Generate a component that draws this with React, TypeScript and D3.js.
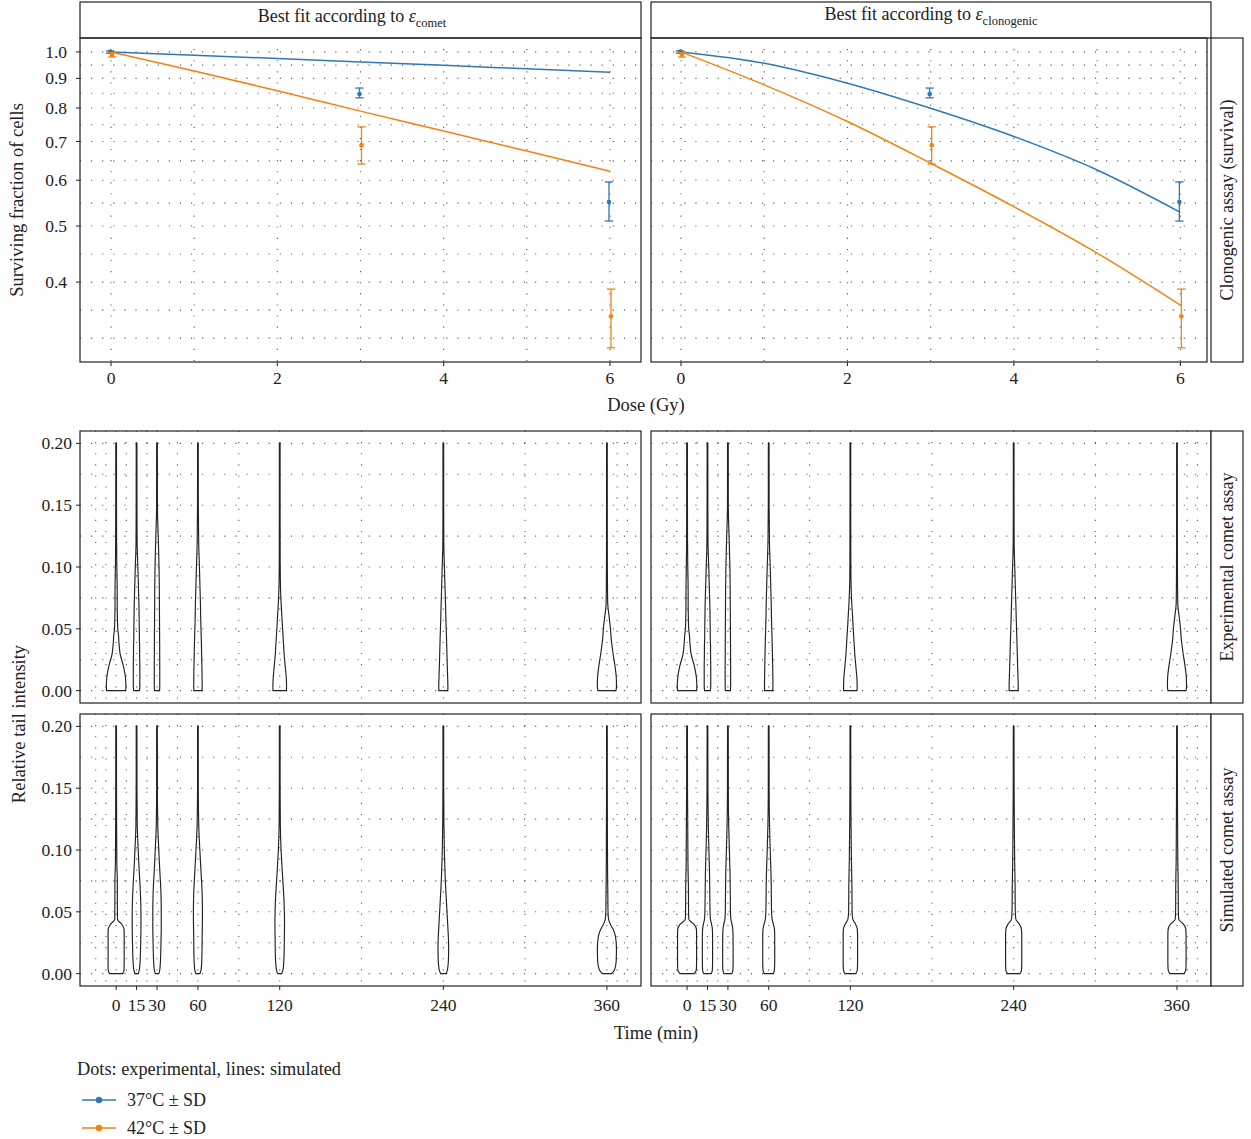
import React from "react";
import * as d3 from "d3";

// ---------- DATA ----------
const EXP_DOSES = [0, 3, 6];
const EXP_37_MEAN = [1.0, 0.846, 0.55];
const EXP_37_LO = [0.995, 0.833, 0.51];
const EXP_37_HI = [1.004, 0.866, 0.596];
const EXP_42_MEAN = [0.988, 0.69, 0.349];
const EXP_42_LO = [0.98, 0.64, 0.308];
const EXP_42_HI = [0.997, 0.742, 0.389];

const FIT_DOSES = [0, 1, 2, 3, 4, 5, 6];
const FIT_COMET_37 = [1.0, 0.987, 0.974, 0.961, 0.948, 0.935, 0.922];
const FIT_COMET_42 = [1.0, 0.927, 0.857, 0.79, 0.73, 0.674, 0.622];
const FIT_CLONO_37 = [1.0, 0.956, 0.883, 0.799, 0.714, 0.625, 0.528];
const FIT_CLONO_42 = [1.0, 0.877, 0.758, 0.642, 0.54, 0.449, 0.365];

const SURV_TICKS = [0.4, 0.5, 0.6, 0.7, 0.8, 0.9, 1.0];
const DOSE_TICKS = [0, 2, 4, 6];
const TIMES = [0, 15, 30, 60, 120, 240, 360];
const TAIL_TICKS = [0, 0.05, 0.1, 0.15, 0.2];

// violin profiles: half-width (min) at each tail-intensity level
const PROFILE_Y = [0, 0.003, 0.01, 0.02, 0.03, 0.036, 0.04, 0.044, 0.05, 0.06, 0.07, 0.08, 0.09, 0.1, 0.12, 0.15, 0.2];
const EXP_VIOLINS = [
  [7.0, 7.2, 6.9, 5.3, 2.9, 2.3, 2.0, 1.8, 1.2, 0.93, 0.8, 0.8, 0.7, 0.53, 0.35, 0.28, 0.26],
  [2.1, 2.4, 2.4, 2.4, 2.25, 2.25, 2.1, 2.05, 2.0, 1.86, 1.72, 1.46, 1.2, 0.93, 0.4, 0.28, 0.26],
  [1.85, 2.0, 2.0, 2.0, 1.95, 1.95, 1.9, 1.9, 1.86, 1.8, 1.75, 1.7, 1.6, 1.46, 1.0, 0.3, 0.26],
  [3.0, 3.1, 3.05, 2.9, 2.7, 2.6, 2.5, 2.4, 2.25, 2.0, 1.85, 1.6, 1.35, 1.1, 0.55, 0.3, 0.26],
  [4.9, 5.0, 4.8, 4.0, 3.2, 2.9, 2.65, 2.45, 2.1, 1.6, 1.06, 0.66, 0.45, 0.35, 0.3, 0.27, 0.26],
  [3.3, 3.35, 3.2, 2.9, 2.65, 2.5, 2.4, 2.3, 2.1, 1.85, 1.6, 1.33, 1.06, 0.8, 0.35, 0.27, 0.26],
  [6.6, 7.0, 6.9, 5.9, 4.5, 3.8, 3.3, 3.0, 2.6, 1.6, 0.6, 0.45, 0.38, 0.33, 0.3, 0.27, 0.26],
];
const SIM_COMET_VIOLINS = [
  [4.8, 5.8, 5.9, 5.9, 5.9, 5.85, 4.0, 1.0, 0.95, 0.9, 0.9, 0.8, 0.5, 0.45, 0.35, 0.28, 0.26],
  [1.3, 2.0, 2.6, 2.9, 3.1, 3.2, 3.2, 3.2, 3.2, 3.0, 2.6, 2.1, 1.6, 1.2, 0.5, 0.28, 0.26],
  [1.3, 2.0, 2.5, 2.8, 3.0, 3.1, 3.1, 3.1, 3.1, 3.0, 2.7, 2.2, 1.7, 1.3, 0.55, 0.28, 0.26],
  [1.5, 2.3, 2.8, 3.0, 3.1, 3.2, 3.25, 3.3, 3.3, 3.2, 2.9, 2.4, 1.9, 1.4, 0.6, 0.28, 0.26],
  [1.5, 2.4, 3.0, 3.3, 3.4, 3.5, 3.5, 3.5, 3.4, 3.1, 2.6, 2.0, 1.5, 1.0, 0.45, 0.28, 0.26],
  [2.0, 3.0, 3.7, 3.9, 3.7, 3.4, 3.2, 3.0, 2.7, 2.2, 1.7, 1.3, 1.0, 0.75, 0.45, 0.28, 0.26],
  [3.2, 5.5, 6.8, 7.0, 6.3, 4.5, 2.5, 1.2, 0.8, 0.7, 0.6, 0.5, 0.45, 0.4, 0.35, 0.28, 0.26],
];
const SIM_CLONO_VIOLINS = [
  [5.2, 6.8, 7.0, 7.0, 7.0, 6.9, 5.0, 1.3, 1.1, 1.05, 1.0, 0.8, 0.65, 0.6, 0.5, 0.32, 0.26],
  [2.8, 3.6, 3.75, 3.75, 3.75, 3.6, 3.0, 2.2, 1.9, 1.75, 1.65, 1.55, 1.3, 1.05, 0.6, 0.32, 0.26],
  [2.9, 3.7, 3.85, 3.85, 3.8, 3.6, 3.0, 2.2, 1.9, 1.8, 1.7, 1.6, 1.35, 1.1, 0.6, 0.32, 0.26],
  [3.4, 4.2, 4.4, 4.4, 4.4, 4.2, 3.4, 2.5, 2.1, 1.95, 1.85, 1.7, 1.4, 1.1, 0.6, 0.32, 0.26],
  [4.0, 5.1, 5.3, 5.3, 5.3, 5.1, 3.8, 1.8, 1.3, 1.2, 1.15, 1.0, 0.8, 0.7, 0.5, 0.32, 0.26],
  [4.6, 5.8, 5.95, 5.95, 5.95, 5.7, 4.2, 1.6, 1.2, 1.1, 1.05, 0.9, 0.75, 0.65, 0.5, 0.32, 0.26],
  [5.1, 6.5, 6.7, 6.7, 6.7, 6.5, 4.8, 1.3, 1.0, 0.95, 0.9, 0.8, 0.6, 0.55, 0.45, 0.32, 0.26],
];

const SERIES_LABELS = ["37°C ± SD", "42°C ± SD"];
const COLORS = ["#2f78b7", "#f5820f"];

// ---------- helpers ----------
const FONT = "'Liberation Serif', 'Times New Roman', serif";
const TICK_FS = 17.5;
const TITLE_FS = 18.5;
const STRIP_FS = 18;
const GRID = { stroke: "#555", strokeWidth: 1.1, strokeDasharray: "1.1 10" };

function minorBreaks(b: number[], lim: [number, number]) {
  const bd = b[1] - b[0];
  let bb = [...b];
  if (lim[0] < bb[0]) bb = [bb[0] - bd, ...bb];
  if (lim[1] > bb[bb.length - 1]) bb = [...bb, bb[bb.length - 1] + bd];
  const out: number[] = [];
  for (let i = 0; i < bb.length - 1; i++) out.push(bb[i], (bb[i] + bb[i + 1]) / 2);
  out.push(bb[bb.length - 1]);
  return out.filter((v) => v >= Math.min(...lim) && v <= Math.max(...lim));
}

const SURV_DOMAIN: [number, number] = [0.291, 1.057];
const DODGE = 0.012;
const CAP = 0.05;

function SurvPanel({ x0, x1, dDomain, fit37, fit42, ticks }: any) {
  const top = 38, bot = 362;
  const xs = d3.scaleLinear().domain(dDomain).range([x0, x1]);
  const ys = d3.scaleLog().domain(SURV_DOMAIN).range([bot, top]);
  const lnB = SURV_TICKS.map((v) => Math.log(v));
  const yGrid = minorBreaks(lnB, [Math.log(SURV_DOMAIN[0]), Math.log(SURV_DOMAIN[1])]).map((v) => Math.exp(v));
  const xGrid = minorBreaks(DOSE_TICKS, dDomain);
  const line = d3
    .line<number>()
    .x((_, i) => xs(FIT_DOSES[i]))
    .y((v) => ys(v))
    .curve(d3.curveMonotoneX);
  const exp = [
    { m: EXP_37_MEAN, lo: EXP_37_LO, hi: EXP_37_HI, c: COLORS[0], dx: -DODGE },
    { m: EXP_42_MEAN, lo: EXP_42_LO, hi: EXP_42_HI, c: COLORS[1], dx: DODGE },
  ];
  return (
    <g>
      <g>
        {yGrid.map((v, i) => (
          <line key={"h" + i} x1={x0} x2={x1} y1={ys(v)} y2={ys(v)} {...GRID} />
        ))}
        {xGrid.map((v, i) => (
          <line key={"v" + i} x1={xs(v)} x2={xs(v)} y1={top} y2={bot} {...GRID} />
        ))}
      </g>
      <path d={line(fit37) || ""} fill="none" stroke={COLORS[0]} strokeWidth={1.5} />
      <path d={line(fit42) || ""} fill="none" stroke={COLORS[1]} strokeWidth={1.5} />
      {exp.map((s, k) => (
        <g key={k} stroke={s.c} fill={s.c}>
          {EXP_DOSES.map((d, i) => {
            const cx = xs(d + s.dx);
            return (
              <g key={i}>
                <line x1={cx} x2={cx} y1={ys(s.lo[i])} y2={ys(s.hi[i])} strokeWidth={1.3} />
                <line x1={xs(d + s.dx - CAP)} x2={xs(d + s.dx + CAP)} y1={ys(s.lo[i])} y2={ys(s.lo[i])} strokeWidth={1.3} />
                <line x1={xs(d + s.dx - CAP)} x2={xs(d + s.dx + CAP)} y1={ys(s.hi[i])} y2={ys(s.hi[i])} strokeWidth={1.3} />
                <circle cx={cx} cy={ys(s.m[i])} r={2.3} stroke="none" />
              </g>
            );
          })}
        </g>
      ))}
      <rect x={x0} y={top} width={x1 - x0} height={bot - top} fill="none" stroke="#222" strokeWidth={1.2} />
      {DOSE_TICKS.map((t) => (
        <g key={t}>
          <line x1={xs(t)} x2={xs(t)} y1={bot} y2={bot + 4} stroke="#222" />
          <text x={xs(t)} y={bot + 22} textAnchor="middle" fontSize={TICK_FS} fontFamily={FONT} fill="#222">
            {t}
          </text>
        </g>
      ))}
      {ticks &&
        SURV_TICKS.map((t) => (
          <g key={t}>
            <line x1={x0 - 4} x2={x0} y1={ys(t)} y2={ys(t)} stroke="#222" />
            <text x={x0 - 13} y={ys(t) + 6} textAnchor="end" fontSize={TICK_FS} fontFamily={FONT} fill="#222">
              {d3.format(".1f")(t)}
            </text>
          </g>
        ))}
    </g>
  );
}

const TIME_DOMAIN: [number, number] = [-26.5, 385];
const TAIL_DOMAIN: [number, number] = [-0.01, 0.21];

function ViolinPanel({ x0, x1, top, bot, violins, yTicks, xTicks }: any) {
  const xs = d3.scaleLinear().domain(TIME_DOMAIN).range([x0, x1]);
  const ys = d3.scaleLinear().domain(TAIL_DOMAIN).range([bot, top]);
  const yGrid = minorBreaks(TAIL_TICKS, TAIL_DOMAIN);
  const xGrid = minorBreaks(TIMES, TIME_DOMAIN);
  return (
    <g>
      {yGrid.map((v, i) => (
        <line key={"h" + i} x1={x0} x2={x1} y1={ys(v)} y2={ys(v)} {...GRID} />
      ))}
      {xGrid.map((v, i) => (
        <line key={"v" + i} x1={xs(v)} x2={xs(v)} y1={top} y2={bot} {...GRID} />
      ))}
      {TIMES.map((t, k) => {
        const hw: number[] = violins[k];
        const area = d3
          .area<number>()
          .y((_, i) => ys(PROFILE_Y[i]))
          .x0((w) => xs(t - w))
          .x1((w) => xs(t + w))
          .curve(d3.curveMonotoneY);
        return <path key={t} d={area(hw) || ""} fill="none" stroke="#222" strokeWidth={1.15} />;
      })}
      <rect x={x0} y={top} width={x1 - x0} height={bot - top} fill="none" stroke="#222" strokeWidth={1.2} />
      {yTicks &&
        TAIL_TICKS.map((t) => (
          <g key={t}>
            <line x1={x0 - 4} x2={x0} y1={ys(t)} y2={ys(t)} stroke="#222" />
            <text x={x0 - 8} y={ys(t) + 6} textAnchor="end" fontSize={TICK_FS} fontFamily={FONT} fill="#222">
              {d3.format(".2f")(t)}
            </text>
          </g>
        ))}
      {xTicks &&
        TIMES.map((t) => (
          <g key={t}>
            <line x1={xs(t)} x2={xs(t)} y1={bot} y2={bot + 4} stroke="#222" />
            <text x={xs(t)} y={bot + 25} textAnchor="middle" fontSize={TICK_FS} fontFamily={FONT} fill="#222">
              {t}
            </text>
          </g>
        ))}
    </g>
  );
}

function Strip({ x, y, w, h, children }: any) {
  return (
    <g>
      <rect x={x} y={y} width={w} height={h} fill="white" stroke="#222" strokeWidth={1.2} />
      {children}
    </g>
  );
}

function RightStrip({ y0, y1, label }: any) {
  const x = 1211, w = 32;
  return (
    <g>
      <rect x={x} y={y0} width={w} height={y1 - y0} fill="white" stroke="#222" strokeWidth={1.2} />
      <text
        transform={`translate(${x + w / 2 + 6},${(y0 + y1) / 2}) rotate(-90)`}
        textAnchor="middle"
        fontSize={STRIP_FS}
        fontFamily={FONT}
        fill="#222"
      >
        {label}
      </text>
    </g>
  );
}

export default function App() {
  const W = 1251, H = 1139;
  return (
    <svg width={W} height={H} style={{ position: "absolute", left: 0, top: 0, background: "white" }}>
      <rect x={0} y={0} width={W} height={H} fill="white" />
      {/* top strips */}
      <Strip x={80} y={2} w={561} h={36}>
        <text x={352} y={22} textAnchor="middle" fontSize={STRIP_FS} fontFamily={FONT} fill="#222">
          Best fit according to <tspan fontStyle="italic">ε</tspan>
          <tspan fontSize={12.5} dy={5}>comet</tspan>
        </text>
      </Strip>
      <Strip x={651} y={2} w={560} h={36}>
        <text x={931} y={20} textAnchor="middle" fontSize={STRIP_FS} fontFamily={FONT} fill="#222">
          Best fit according to <tspan fontStyle="italic">ε</tspan>
          <tspan fontSize={12.5} dy={5}>clonogenic</tspan>
        </text>
      </Strip>

      <SurvPanel x0={80} x1={641} dDomain={[-0.373, 6.373]} fit37={FIT_COMET_37} fit42={FIT_COMET_42} ticks />
      <SurvPanel x0={651} x1={1207} dDomain={[-0.36, 6.32]} fit37={FIT_CLONO_37} fit42={FIT_CLONO_42} ticks={false} />
      <RightStrip y0={38} y1={362} label="Clonogenic assay (survival)" />

      <text x={646} y={411} textAnchor="middle" fontSize={TITLE_FS} fontFamily={FONT} fill="#222">
        Dose (Gy)
      </text>
      <text transform="translate(23,200) rotate(-90)" textAnchor="middle" fontSize={TITLE_FS} fontFamily={FONT} fill="#222">
        Surviving fraction of cells
      </text>

      <ViolinPanel x0={80} x1={641} top={431} bot={703} violins={EXP_VIOLINS} yTicks xTicks={false} />
      <ViolinPanel x0={651} x1={1211} top={431} bot={703} violins={EXP_VIOLINS} yTicks={false} xTicks={false} />
      <RightStrip y0={431} y1={703} label="Experimental comet assay" />

      <ViolinPanel x0={80} x1={641} top={714} bot={986} violins={SIM_COMET_VIOLINS} yTicks xTicks />
      <ViolinPanel x0={651} x1={1211} top={714} bot={986} violins={SIM_CLONO_VIOLINS} yTicks={false} xTicks />
      <RightStrip y0={714} y1={986} label="Simulated comet assay" />

      <text x={656} y={1039} textAnchor="middle" fontSize={TITLE_FS} fontFamily={FONT} fill="#222">
        Time (min)
      </text>
      <text transform="translate(25,724) rotate(-90)" textAnchor="middle" fontSize={TITLE_FS} fontFamily={FONT} fill="#222">
        Relative tail intensity
      </text>

      {/* legend */}
      <text x={77} y={1075} fontSize={18.3} fontFamily={FONT} fill="#222">
        Dots: experimental, lines: simulated
      </text>
      {SERIES_LABELS.map((lab, i) => (
        <g key={lab} transform={`translate(0,${1100 + i * 28})`}>
          <line x1={82} x2={116} y1={0} y2={0} stroke={COLORS[i]} strokeWidth={1.5} />
          <circle cx={99} cy={0} r={3.2} fill={COLORS[i]} />
          <text x={127} y={6} fontSize={18} fontFamily={FONT} fill="#222">
            {lab}
          </text>
        </g>
      ))}
    </svg>
  );
}
